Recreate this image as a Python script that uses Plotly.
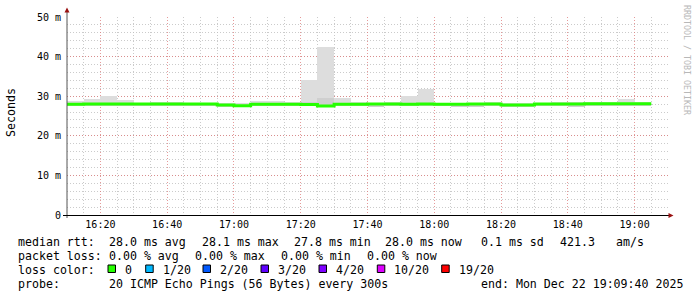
import pandas as pd
import plotly.graph_objects as go

# ---------------- data ----------------
bin_start = "2025-12-22 16:10:00"
bin_minutes = 5
axis_range = ["2025-12-22 16:10:00", "2025-12-22 19:10:00"]

# smoke (ping spread) per 5-minute bin, in ms
smoke_max = [28.8, 29.3, 30.1, 29.0, 28.4, 28.5, 28.5, 28.3, 28.3, 28.4,
             28.2, 28.8, 28.8, 28.5, 34.1, 42.5, 29.6, 28.5, 28.3, 28.5,
             30.1, 31.9, 28.3, 28.3, 28.3, 28.5, 28.2, 28.2, 28.3, 28.6,
             28.6, 28.6, 28.6, 29.3, 28.6]
smoke_min = [27.6, 27.6, 27.6, 27.6, 27.6, 27.6, 27.6, 27.6, 27.6, 27.2,
             27.4, 27.6, 27.6, 27.6, 27.6, 27.4, 27.6, 27.6, 27.3, 27.6,
             27.6, 27.6, 27.6, 27.2, 27.2, 27.6, 27.3, 27.3, 27.6, 27.6,
             27.2, 27.6, 27.6, 27.6, 27.6]
smoke_dense_hi = [28.0, 28.0, 28.0, 28.0, 28.0, 28.0, 28.0, 28.0, 28.0, 27.8,
                  27.6, 28.0, 28.0, 28.0, 28.6, 29.5, 28.0, 28.0, 28.0, 28.0,
                  28.0, 28.0, 28.0, 28.0, 28.0, 28.0, 27.8, 27.8, 28.0, 28.0,
                  28.0, 28.1, 28.1, 28.1, 28.1]
median_rtt = [27.95, 28.0, 28.0, 28.0, 28.05, 28.0, 28.05, 28.05, 28.0, 27.8,
              27.6, 27.95, 27.95, 27.95, 27.9, 27.5, 27.95, 27.95, 28.05, 28.05,
              27.95, 28.0, 27.95, 27.95, 28.0, 28.0, 27.8, 27.8, 28.0, 28.0,
              28.0, 28.1, 28.1, 28.1, 28.1]

y_tickvals = [0, 10, 20, 30, 40, 50]
y_ticktext = ["0", "10 m", "20 m", "30 m", "40 m", "50 m"]

rtt_label = "median rtt:"
rtt_stats = ["28.0 ms avg", "28.1 ms max", "27.8 ms min", "28.0 ms now", "0.1 ms sd", "421.3", "am/s"]
loss_label = "packet loss:"
loss_stats = ["0.00 % avg", "0.00 % max", "0.00 % min", "0.00 % now"]
color_label = "loss color:"
loss_levels = ["0", "1/20", "2/20", "3/20", "4/20", "10/20", "19/20"]
loss_colors = ["#26ff00", "#00b8ff", "#0059ff", "#5e00ff", "#7e00ff", "#dd00ff", "#ff0000"]
probe_label = "probe:"
probe_text = "20 ICMP Echo Pings (56 Bytes) every 300s"
end_text = "end: Mon Dec 22 19:09:40 2025"
watermark = "RRDTOOL / TOBI OETIKER"

# ---------------- layout geometry (pixels) ----------------
W, H = 697, 297
L, R, T, B = 67, 668, 17, 215
MONO = "DejaVu Sans Mono"


def px(x):
    return (x - L) / (R - L)


def py(y):
    return (B - y) / (B - T)


n = len(median_rtt)
starts = pd.date_range(bin_start, periods=n, freq=f"{bin_minutes}min")
end = starts[-1] + pd.Timedelta(minutes=bin_minutes)
width_ms = bin_minutes * 60 * 1000

fig = go.Figure()
fig.add_trace(go.Bar(
    x=starts, y=[hi - lo for hi, lo in zip(smoke_max, smoke_min)], base=smoke_min,
    width=width_ms, offset=0, marker=dict(color="#dddddd", line=dict(width=0)),
    hoverinfo="skip", showlegend=False))
fig.add_trace(go.Bar(
    x=starts, y=[hi - lo for hi, lo in zip(smoke_dense_hi, smoke_min)], base=smoke_min,
    width=width_ms, offset=0, marker=dict(color="#cfcfcf", line=dict(width=0)),
    hoverinfo="skip", showlegend=False))
fig.add_trace(go.Scatter(
    x=list(starts) + [end], y=median_rtt + [median_rtt[-1]], mode="lines",
    line=dict(color=loss_colors[0], width=3, shape="hv"), showlegend=False))

major_grid = "rgba(220,120,120,0.75)"
minor_grid = "rgba(190,190,190,0.8)"

fig.update_xaxes(
    type="date", range=axis_range, dtick=20 * 60 * 1000, tick0="2025-12-22 16:00:00",
    tickformat="%H:%M", showgrid=True, gridcolor=major_grid, griddash="1px,2px", gridwidth=1,
    minor=dict(dtick=5 * 60 * 1000, tick0="2025-12-22 16:00:00", showgrid=True,
               gridcolor=minor_grid, griddash="1px,2px", gridwidth=1),
    showline=False, zeroline=False, ticks="", ticklabelstandoff=2,
    tickfont=dict(family=MONO, size=10, color="#000000"), fixedrange=True)
fig.update_yaxes(
    range=[0, 50], tickvals=y_tickvals, ticktext=y_ticktext, showgrid=True,
    gridcolor=major_grid, griddash="1px,2px", gridwidth=1,
    minor=dict(dtick=2, showgrid=True, gridcolor=minor_grid, griddash="1px,2px", gridwidth=1),
    showline=False, zeroline=False, ticks="", ticklabelstandoff=5,
    tickfont=dict(family=MONO, size=10, color="#000000"), fixedrange=True)

shapes = []
# axes lines with overshoot
shapes.append(dict(type="line", xref="paper", yref="paper", x0=px(67), x1=px(67),
                   y0=py(218), y1=py(11), line=dict(color="#555555", width=1)))
shapes.append(dict(type="line", xref="paper", yref="paper", x0=px(63), x1=px(670),
                   y0=py(215.5), y1=py(215.5), line=dict(color="#000000", width=1)))
# arrows
arrow_col = "#9a1010"
shapes.append(dict(type="path", xref="paper", yref="paper",
                   path=f"M {px(64.5)} {py(12.5)} L {px(69.5)} {py(12.5)} L {px(67)} {py(7.5)} Z",
                   fillcolor=arrow_col, line=dict(width=0)))
shapes.append(dict(type="path", xref="paper", yref="paper",
                   path=f"M {px(668.5)} {py(213)} L {px(668.5)} {py(218)} L {px(673.5)} {py(215.5)} Z",
                   fillcolor=arrow_col, line=dict(width=0)))

annotations = []


def text(x, y, s, size=11.6, color="#000000", anchor="left", angle=0):
    annotations.append(dict(xref="paper", yref="paper", x=px(x), y=py(y), text=s,
                            showarrow=False, xanchor=anchor, yanchor="middle",
                            textangle=angle, font=dict(family=MONO, size=size, color=color)))


row_y = [242, 256, 270, 284]
text(16, row_y[0], rtt_label)
for s, x in zip(rtt_stats, [107.3, 200, 292.3, 383.3, 479.3, 558.3, 614.3]):
    text(x, row_y[0], s)
text(16, row_y[1], loss_label)
for s, x in zip(loss_stats, [107, 193.3, 279.3, 365]):
    text(x, row_y[1], s)
text(16, row_y[2], color_label)
box_x = [108, 145.7, 203, 261, 319, 377.3, 441.7]
lab_x = [123.3, 160.7, 218.3, 276, 334, 391.7, 456.7]
for lvl, col, bx, lx in zip(loss_levels, loss_colors, box_x, lab_x):
    shapes.append(dict(type="rect", xref="paper", yref="paper", x0=px(bx), x1=px(bx + 7.5),
                       y0=py(265), y1=py(272.5), fillcolor=col,
                       line=dict(color="#000000", width=1)))
    text(lx, row_y[2], lvl)
text(16, row_y[3], probe_label)
text(107.3, row_y[3], probe_text)
text(479, row_y[3], end_text)

text(11, 113, "Seconds", size=11.6, anchor="center", angle=-90)
text(687, 60, watermark, size=8.3, color="#b8b8b8", anchor="center", angle=90)

fig.update_layout(
    width=W, height=H, margin=dict(l=L, r=W - R, t=T, b=H - B, pad=0),
    paper_bgcolor="#ffffff", plot_bgcolor="#ffffff", barmode="overlay", bargap=0,
    shapes=shapes, annotations=annotations, showlegend=False)

fig.write_html("out.html")
